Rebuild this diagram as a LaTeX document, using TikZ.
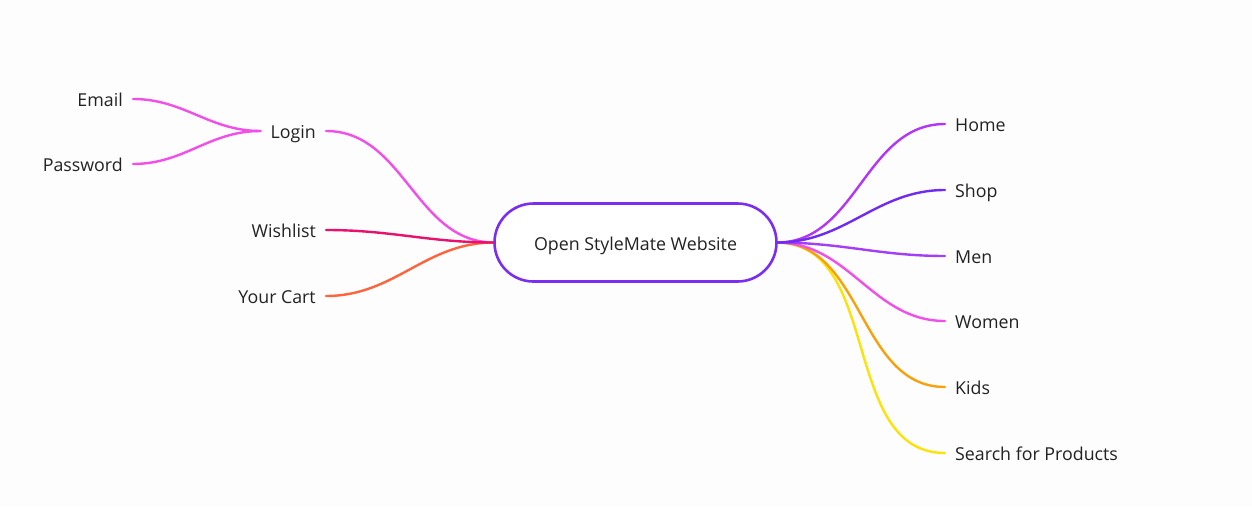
\documentclass[tikz,border=0pt]{standalone}
\usepackage{fontspec}
\setmainfont{Open Sans}
\definecolor{txt}{HTML}{222222}
\definecolor{cpurple}{HTML}{7A2FF0}
\definecolor{cpink}{HTML}{F24FEA}
\definecolor{ccrimson}{HTML}{E8116B}
\definecolor{ccoral}{HTML}{FF653D}
\definecolor{chome}{HTML}{B237F5}
\definecolor{cshop}{HTML}{6F2BF0}
\definecolor{cmen}{HTML}{A43EF6}
\definecolor{ckids}{HTML}{F7A10B}
\definecolor{csearch}{HTML}{FBE20A}
\definecolor{bg}{HTML}{FDFDFD}
\tikzset{
  lbl/.style={inner xsep=10pt, inner ysep=0pt, text height=14pt, text depth=0pt,
    font=\fontsize{17.8}{20}\selectfont, text=txt},
  rlbl/.style={lbl, anchor=west},
  llbl/.style={lbl, anchor=east},
  conn/.style={line width=2.4pt, line cap=round},
  hub/.style={draw=cpurple, line width=2.6pt, fill=white, rounded corners=39pt,
    minimum width=282pt, minimum height=78pt, inner sep=0pt,
    text height=15pt, text depth=0pt,
    font=\fontsize{17.8}{20}\selectfont, text=txt}
}
\begin{document}
\begin{tikzpicture}[x=1pt,y=-1pt]
\fill[bg] (0,0) rectangle (1252,506);
\useasboundingbox (0,0) rectangle (1252,506);
% labels
\node[rlbl] (home)   at (945,124) {Home};
\node[rlbl] (shop)   at (945,190) {Shop};
\node[rlbl] (men)    at (945,256) {Men};
\node[rlbl] (women)  at (945,321) {Women};
\node[rlbl] (kids)   at (945,387) {Kids};
\node[rlbl] (search) at (945,453) {Search for Products};
\node[llbl] (login)  at (326,131) {Login};
\node[llbl] (wish)   at (326,230) {Wishlist};
\node[llbl] (cart)   at (326,296) {Your Cart};
\node[llbl] (email)  at (133,99)  {Email};
\node[llbl] (pass)   at (133,164) {Password};
% connectors
\coordinate (hubE) at (777,242.5);
\coordinate (hubW) at (494,242.5);
\draw[conn, csearch] (hubE) to[out=0,in=180] (search.west);
\draw[conn, ckids]   (hubE) to[out=0,in=180] (kids.west);
\draw[conn, cpink]   (hubE) to[out=0,in=180] (women.west);
\draw[conn, cmen]    (hubE) to[out=0,in=180] (men.west);
\draw[conn, chome]   (hubE) to[out=0,in=180] (home.west);
\draw[conn, cshop]   (hubE) to[out=0,in=180] (shop.west);
\draw[conn, cpink]    (login.east) to[out=0,in=180] (hubW);
\draw[conn, ccoral]   (cart.east)  to[out=0,in=180] (hubW);
\draw[conn, ccrimson] (wish.east)  to[out=0,in=180] (hubW);
\draw[conn, cpink] (email.east) to[out=0,in=180] (login.west);
\draw[conn, cpink] (pass.east)  to[out=0,in=180] (login.west);
% hub
\node[hub] (main) at (635.5,242.5) {Open StyleMate Website};
\end{tikzpicture}
\end{document}
